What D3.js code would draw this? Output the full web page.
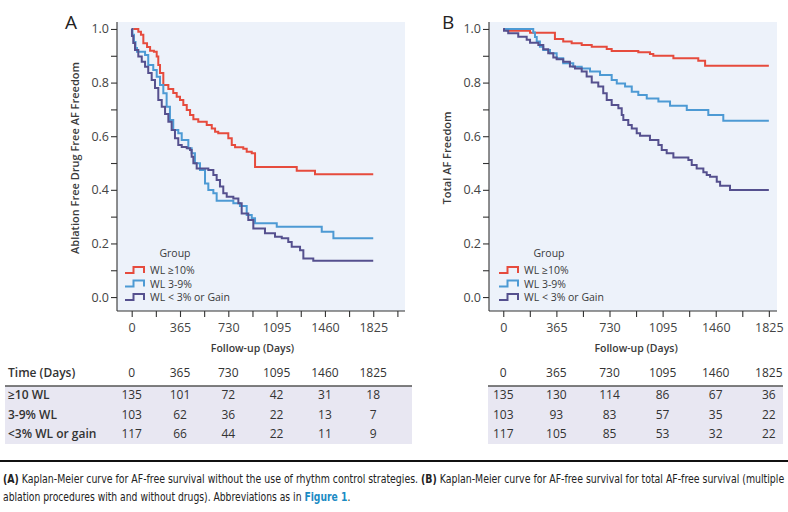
<!DOCTYPE html>
<html><head><meta charset="utf-8">
<script src="https://cdn.jsdelivr.net/npm/d3@7"></script>
<style>
html,body{margin:0;padding:0;background:#fff;}
svg{display:block;font-family:"Open Sans","Noto Sans",sans-serif;}
</style></head>
<body><svg id="c" width="788" height="512"></svg>
<script>
// ---------- DATA ----------
const groups = ["WL \u226510%", "WL 3-9%", "WL < 3% or Gain"];
const tableRowLabels = ["\u226510 WL", "3-9% WL", "<3% WL or gain"];
const timePoints = [0, 365, 730, 1095, 1460, 1825];
const atRiskA = [[135,101,72,42,31,18],[103,62,36,22,13,7],[117,66,44,22,11,9]];
const atRiskB = [[135,130,114,86,67,36],[103,93,83,57,35,22],[117,105,85,53,32,22]];

// Panel A: ablation free, drug free AF freedom  [day, survival]
const kmA_wl10 = [[0,1],[50,0.990],[70,0.978],[88,0.947],[116,0.933],[139,0.919],[168,0.915],[189,0.897],[201,0.866],[214,0.836],[239,0.791],[277,0.776],[314,0.761],[340,0.747],[365,0.735],[390,0.716],[416,0.698],[441,0.679],[466,0.663],[503,0.654],[567,0.642],[605,0.629],[630,0.617],[654,0.611],[730,0.592],[756,0.567],[781,0.559],[843,0.553],[869,0.542],[907,0.536],[932,0.485],[1247,0.471],[1385,0.458],[1825,0.458]];
const kmA_wl39 = [[0,1],[6,0.978],[17,0.951],[29,0.929],[40,0.915],[101,0.903],[125,0.866],[163,0.847],[189,0.822],[214,0.791],[239,0.760],[264,0.710],[289,0.660],[314,0.623],[352,0.611],[378,0.586],[428,0.555],[453,0.536],[478,0.499],[516,0.474],[554,0.424],[579,0.399],[617,0.387],[642,0.359],[768,0.350],[818,0.340],[869,0.306],[907,0.294],[932,0.275],[1096,0.262],[1436,0.244],[1524,0.219],[1825,0.219]];
const kmA_wl3 = [[0,1],[2,0.974],[12,0.948],[25,0.922],[50,0.897],[76,0.878],[101,0.859],[125,0.836],[151,0.810],[176,0.780],[201,0.735],[227,0.710],[252,0.683],[277,0.654],[302,0.623],[327,0.592],[352,0.567],[378,0.560],[416,0.555],[441,0.549],[453,0.523],[466,0.499],[491,0.480],[579,0.474],[617,0.455],[642,0.437],[667,0.412],[692,0.387],[718,0.374],[768,0.368],[806,0.350],[831,0.312],[881,0.287],[919,0.256],[1007,0.238],[1083,0.225],[1134,0.219],[1183,0.205],[1209,0.188],[1272,0.175],[1297,0.144],[1372,0.135],[1825,0.135]];

// Panel B: total AF freedom
const kmB_wl10 = [[0,1],[30,0.993],[184,0.986],[355,0.963],[412,0.953],[470,0.947],[539,0.940],[608,0.934],[711,0.925],[745,0.918],[928,0.913],[1008,0.907],[1031,0.900],[1169,0.891],[1340,0.881],[1387,0.863],[1825,0.863]];
const kmB_wl39 = [[0,1],[206,0.987],[218,0.970],[230,0.953],[252,0.934],[275,0.922],[321,0.909],[367,0.891],[412,0.872],[481,0.859],[539,0.853],[596,0.841],[665,0.828],[745,0.810],[780,0.797],[837,0.785],[883,0.766],[928,0.754],[986,0.741],[1066,0.729],[1146,0.714],[1261,0.698],[1409,0.679],[1512,0.658],[1825,0.658]];
const kmB_wl3 = [[0,1],[5,0.993],[34,0.984],[103,0.971],[161,0.960],[184,0.949],[241,0.940],[275,0.924],[309,0.909],[344,0.894],[367,0.887],[412,0.878],[458,0.860],[493,0.853],[539,0.841],[573,0.823],[608,0.800],[653,0.785],[687,0.760],[711,0.735],[745,0.716],[791,0.704],[814,0.679],[825,0.660],[859,0.642],[883,0.629],[917,0.611],[940,0.602],[1008,0.586],[1066,0.567],[1089,0.549],[1123,0.536],[1169,0.521],[1272,0.511],[1295,0.493],[1329,0.480],[1375,0.466],[1398,0.455],[1421,0.449],[1467,0.430],[1490,0.415],[1558,0.399],[1825,0.399]];

const colors = ["#e64b3d", "#4d9ad4", "#55508e"];
const yTicks = [0,0.1,0.2,0.3,0.4,0.5,0.6,0.7,0.8,0.9,1.0];
const yLabels = [0,0.2,0.4,0.6,0.8,1.0];

// ---------- DRAW ----------
const svg = d3.select("#c");
const TXT = "#3a3a3a";

function panel(cfg){
  const g = svg.append("g");
  const x = d3.scaleLinear().domain(cfg.xDomain).range([cfg.left, cfg.right]);
  const y = d3.scaleLinear().domain([-0.052, 1.026]).range([311, 22]);
  g.append("rect").attr("x", cfg.left).attr("y", 22).attr("width", cfg.right-cfg.left).attr("height", 311-22).attr("fill", "#edf2fa");
  // y axis
  const ya = g.append("g").attr("transform", `translate(${cfg.left},0)`)
    .call(d3.axisLeft(y).tickValues(yTicks).tickSize(6).tickFormat(d => yLabels.some(v=>Math.abs(v-d)<1e-9) ? d3.format(".1f")(d) : ""));
  ya.select(".domain").attr("d", `M0,${y.range()[1]}V${y.range()[0]}`);
  // x axis
  const xa = g.append("g").attr("transform", "translate(0,311)")
    .call(d3.axisBottom(x).tickValues(cfg.xTicks).tickSize(6).tickPadding(6).tickFormat(d => d % 365 === 0 ? String(d) : ""));
  xa.select(".domain").attr("d", `M${cfg.left},0H${cfg.right}`);
  [ya, xa].forEach(a => {
    a.selectAll("path,line").attr("stroke", "#333").attr("stroke-width", 1.1);
    a.selectAll("text").attr("fill", "#444").attr("font-size", 12.5).attr("font-family", "Open Sans, sans-serif");
  });
  ya.selectAll("text").attr("x", -8);
  // curves
  const line = d3.line().x(d => x(d[0])).y(d => y(d[1])).curve(d3.curveStepAfter);
  cfg.series.forEach((s, i) => {
    g.append("path").datum(s).attr("d", line).attr("fill", "none").attr("stroke", colors[i]).attr("stroke-width", 2);
  });
  // panel letter
  g.append("text").attr("x", cfg.letterX).attr("y", 29).attr("font-size", 19).attr("fill", "#222").text(cfg.letter);
  // y title
  g.append("text").attr("transform", `translate(${cfg.yTitleX},158) rotate(-90)`).attr("text-anchor", "middle")
    .attr("font-size", 11).attr("font-weight", 600).attr("fill", TXT).text(cfg.yTitle);
  // x title
  g.append("text").attr("x", (x(0)+x(1825))/2).attr("y", 352).attr("text-anchor", "middle")
    .attr("font-size", 10.5).attr("font-weight", 600).attr("fill", TXT).text("Follow-up (Days)");
  // legend
  const lx = cfg.legendX;
  g.append("text").attr("x", lx + 50).attr("y", 257).attr("text-anchor", "middle").attr("font-size", 10.5).attr("fill", TXT).text("Group");
  groups.forEach((name, i) => {
    const yy = 273 + i*13.5;
    g.append("path").attr("d", `M${lx},${yy}H${lx+8.5}V${yy-6}H${lx+19}V${yy}`).attr("fill","none").attr("stroke", colors[i]).attr("stroke-width", 2);
    g.append("text").attr("x", lx + 25).attr("y", yy + 1).attr("font-size", 10.5).attr("fill", TXT).text(name);
  });
  // at-risk table
  const t = svg.append("g");
  t.append("rect").attr("x", cfg.tableL).attr("y", 386).attr("width", cfg.tableR - cfg.tableL).attr("height", 58).attr("fill", "#e8e7f2");
  t.append("line").attr("x1", cfg.tableL).attr("x2", cfg.tableR).attr("y1", 386).attr("y2", 386).attr("stroke", "#555").attr("stroke-width", 1.5);
  if (cfg.showLabels) {
    t.append("text").attr("x", 8).attr("y", 377).attr("font-size", 12).attr("font-weight", 600).attr("fill", "#333").text("Time (Days)");
    tableRowLabels.forEach((lab, i) => t.append("text").attr("x", 8).attr("y", 399 + i*19.5).attr("font-size", 12).attr("font-weight", 600).attr("fill", "#333").text(lab));
  }
  timePoints.forEach((tp, j) => {
    t.append("text").attr("x", x(tp)).attr("y", 377).attr("text-anchor", "middle").attr("font-size", 12).attr("fill", "#333").text(tp);
    cfg.atRisk.forEach((row, i) => t.append("text").attr("x", x(tp)).attr("y", 399 + i*19.5).attr("text-anchor","middle").attr("font-size", 12).attr("fill", "#333").text(row[j]));
  });
}

panel({left:117, right:405, xDomain:[-111, 2065], xTicks:d3.range(0, 2008, 182.5),
  series:[kmA_wl10, kmA_wl39, kmA_wl3], letter:"A", letterX:65, yTitleX:79,
  yTitle:"Ablation Free Drug Free AF Freedom", legendX:125, atRisk:atRiskA,
  tableL:5, tableR:412, showLabels:true});
panel({left:489, right:777, xDomain:[-98, 1881], xTicks:d3.range(0, 1826, 182.5),
  series:[kmB_wl10, kmB_wl39, kmB_wl3], letter:"B", letterX:442, yTitleX:451,
  yTitle:"Total AF Freedom", legendX:499, atRisk:atRiskB,
  tableL:488, tableR:783, showLabels:false});

// caption
svg.append("line").attr("x1", 0).attr("x2", 788).attr("y1", 461).attr("y2", 461).attr("stroke", "#111").attr("stroke-width", 2);
function capLine(yy, parts, target){
  const g = svg.append("g");
  const tx = g.append("text").attr("x", 0).attr("y", 0).attr("font-size", 11.5)
    .attr("font-family", "'Liberation Sans Narrow','DejaVu Sans Condensed','Liberation Sans',sans-serif").attr("fill", "#222");
  parts.forEach(p => tx.append("tspan").attr("font-weight", p.b ? 700 : 400).attr("fill", p.c || "#222").text(p.t));
  const w = tx.node().getComputedTextLength();
  g.attr("transform", `translate(3,${yy}) scale(${target / w},1)`);
}
capLine(483, [{t:"(A)", b:true},{t:" Kaplan-Meier curve for AF-free survival without the use of rhythm control strategies. "},{t:"(B)", b:true},{t:" Kaplan-Meier curve for AF-free survival for total AF-free survival (multiple"}], 782);
capLine(501, [{t:"ablation procedures with and without drugs). Abbreviations as in "},{t:"Figure 1", b:true, c:"#1a8bc4"},{t:"."}], 348);
</script></body></html>
